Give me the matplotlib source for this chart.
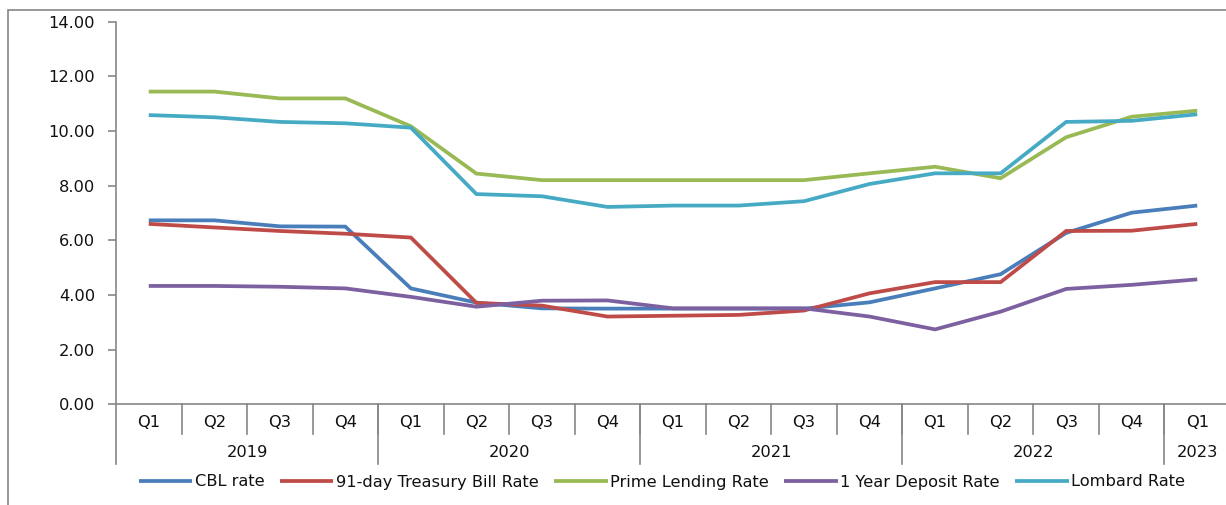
import numpy as np
import matplotlib
matplotlib.use("Agg")
import matplotlib.pyplot as plt
from matplotlib.patches import Rectangle
from matplotlib.transforms import blended_transform_factory

# quarterly interest rates, %
quarters = ["Q1", "Q2", "Q3", "Q4",
            "Q1", "Q2", "Q3", "Q4",
            "Q1", "Q2", "Q3", "Q4",
            "Q1", "Q2", "Q3", "Q4",
            "Q1"]
years = ["2019", "2020", "2021", "2022", "2023"]
year_quarters = [4, 4, 4, 4, 1]

cbl_rate = [6.73, 6.73, 6.51, 6.50, 4.24, 3.72, 3.51, 3.50, 3.50, 3.50, 3.50,
            3.73, 4.24, 4.76, 6.27, 7.01, 7.27]
tbill_91 = [6.60, 6.47, 6.34, 6.24, 6.10, 3.71, 3.61, 3.21, 3.24, 3.27, 3.43,
            4.06, 4.47, 4.47, 6.34, 6.35, 6.60]
prime_lending = [11.44, 11.44, 11.19, 11.19, 10.17, 8.44, 8.20, 8.20, 8.20,
                 8.20, 8.20, 8.45, 8.69, 8.27, 9.77, 10.52, 10.74]
deposit_1y = [4.33, 4.33, 4.30, 4.24, 3.93, 3.57, 3.79, 3.80, 3.51, 3.51, 3.51,
              3.21, 2.74, 3.39, 4.22, 4.37, 4.57]
lombard = [10.58, 10.50, 10.33, 10.28, 10.12, 7.69, 7.61, 7.22, 7.27, 7.27,
           7.43, 8.06, 8.45, 8.45, 10.33, 10.37, 10.61]

series = [
    ("CBL rate", cbl_rate, "#4a7ebb"),
    ("91-day Treasury Bill Rate", tbill_91, "#be4b48"),
    ("Prime Lending Rate", prime_lending, "#98b954"),
    ("1 Year Deposit Rate", deposit_1y, "#7d60a0"),
    ("Lombard Rate", lombard, "#46aac5"),
]

plt.rcParams["font.family"] = ["DejaVu Sans"]
grey = "#868686"
text_col = "#111111"
fs = 11.7

W, H = 1226, 505
fig = plt.figure(figsize=(W / 100, H / 100), dpi=100)

# thin frame around the chart area
fig.patches.append(Rectangle((8 / W, -0.05), 1.2, (H - 10) / H + 0.05,
                             transform=fig.transFigure, fill=False,
                             edgecolor=grey, linewidth=1.2))

ax = fig.add_axes([116 / W, (H - 404.3) / H, 1114 / W, 382.7 / H])

x = np.arange(len(quarters))
for name, vals, col in series:
    ax.plot(x, vals, color=col, linewidth=2.7, label=name,
            solid_joinstyle="miter", solid_capstyle="butt")

ax.set_xlim(-0.5, len(quarters) - 0.5)
ax.set_ylim(0, 14)
ax.set_yticks(np.arange(0, 15, 2))
ax.set_yticklabels([f"{v:.2f}" for v in np.arange(0, 15, 2)])
ax.tick_params(axis="y", length=6, width=1.2, color=grey, pad=9,
               labelsize=fs, labelcolor=text_col)
ax.set_xticks([])

for side in ["top", "right"]:
    ax.spines[side].set_visible(False)
for side in ["left", "bottom"]:
    ax.spines[side].set_color(grey)
    ax.spines[side].set_linewidth(1.2)

# two-level category axis: quarters and years
px = 1 / 382.7
trans = blended_transform_factory(ax.transData, ax.transAxes)
for i, q in enumerate(quarters):
    ax.text(i, -18.5 * px, q, transform=trans, ha="center", va="center",
            fontsize=fs, color=text_col)

year_edges = np.concatenate([[0], np.cumsum(year_quarters)])
for i in range(len(quarters)):
    b = i + 0.5
    if b in year_edges:
        continue
    ax.plot([b, b], [0, -30 * px], transform=trans, color=grey,
            linewidth=1.2, clip_on=False)
for e in year_edges:
    b = e - 0.5
    ax.plot([b, b], [0, -60 * px], transform=trans, color=grey,
            linewidth=1.2, clip_on=False)
for yr, s, e in zip(years, year_edges[:-1], year_edges[1:]):
    ax.text((s + e - 1) / 2, -48.5 * px, yr, transform=trans, ha="center",
            va="center", fontsize=fs, color=text_col)

fig.legend(loc="center", bbox_to_anchor=(662 / W, (H - 482) / H), ncol=5,
           frameon=False, fontsize=fs, handlelength=3.3, handletextpad=0.15,
           columnspacing=0.95, borderaxespad=0, labelcolor=text_col)

fig.savefig("out.png", dpi=100)
